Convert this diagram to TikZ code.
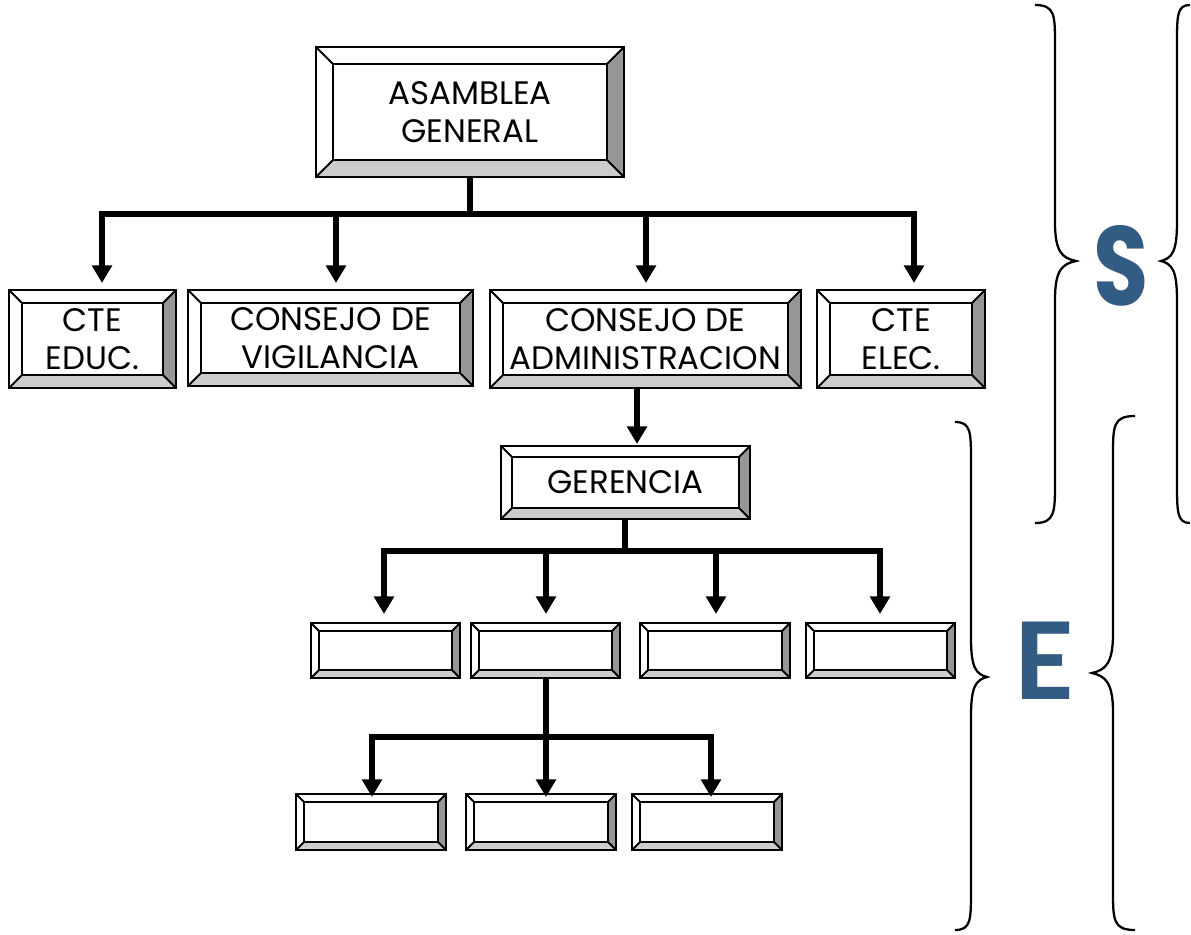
\documentclass[tikz,border=0pt]{standalone}
\usepackage{fontspec}
\setmainfont{Poppins}
\newfontfamily\sfontfam{Poppins}
\newfontfamily\efontfam{Carlito}
\usetikzlibrary{arrows.meta,fit}
\definecolor{rgray}{RGB}{150,150,150}
\definecolor{bgray}{RGB}{204,204,204}
\definecolor{letterblue}{RGB}{51,92,133}
\tikzset{
  boxline/.style={line width=1.1pt,line join=miter},
  conn/.style={line width=2.9pt},
  arr/.style={line width=2.9pt,-{Triangle[width=11pt,length=10pt]}},
  lbl/.style={font=\fontsize{18.5}{21.5}\selectfont,align=center,inner sep=0pt},
  brace/.style={line width=1.3pt}
}
% #1 name, #2 x1, #3 y1, #4 x2, #5 y2, #6 bevel, #7 text
\newcommand\bevbox[7]{%
  \fill[white] (#2,#3) rectangle (#4,#5);
  \fill[rgray] (#4,#3) -- (#4,#5) -- ({#4-#6},{#5-#6}) -- ({#4-#6},{#3+#6}) -- cycle;
  \fill[bgray] (#2,#5) -- (#4,#5) -- ({#4-#6},{#5-#6}) -- ({#2+#6},{#5-#6}) -- cycle;
  \draw[boxline] (#2,#3) rectangle (#4,#5);
  \draw[boxline] ({#2+#6},{#3+#6}) rectangle ({#4-#6},{#5-#6});
  \draw[boxline] (#2,#3) -- ({#2+#6},{#3+#6});
  \draw[boxline] (#4,#3) -- ({#4-#6},{#3+#6});
  \draw[boxline] (#2,#5) -- ({#2+#6},{#5-#6});
  \draw[boxline] (#4,#5) -- ({#4-#6},{#5-#6});
  \node[fit={(#2,#3) (#4,#5)},inner sep=0pt] (#1) {};
  \node[lbl] (#1-t) at (#1.center) {#7};
}
\begin{document}
\begin{tikzpicture}[x=0.02cm,y=-0.02cm]
\fill[white] (0,0) rectangle (1191,934);
\useasboundingbox (0,0) rectangle (1191,934);

% boxes
\bevbox{ag}{316}{47}{624}{177}{17}{ASAMBLEA\\GENERAL}
\bevbox{educ}{9}{290}{176}{388}{13}{CTE\\EDUC.}
\bevbox{vig}{188}{290}{473}{386}{13}{CONSEJO DE\\VIGILANCIA}
\bevbox{adm}{490}{290}{801}{388}{13}{CONSEJO DE\\ADMINISTRACION}
\bevbox{elec}{817}{290}{985}{388}{13}{CTE\\ELEC.}
\bevbox{ger}{501}{446}{750}{519}{11}{GERENCIA}
\bevbox{d1}{311}{623}{460}{678}{8}{}
\bevbox{d2}{471}{623}{620}{678}{8}{}
\bevbox{d3}{640}{623}{790}{678}{8}{}
\bevbox{d4}{806}{623}{955}{678}{8}{}
\bevbox{s1}{296}{794}{446}{850}{8}{}
\bevbox{s2}{466}{794}{616}{850}{8}{}
\bevbox{s3}{632}{794}{782}{850}{8}{}

% connectors level 1
\coordinate (b0) at (470,214);
\coordinate (t1) at (102,283);
\coordinate (t2) at (336,283);
\coordinate (t3) at (646,283);
\coordinate (t4) at (914,283);
\draw[conn] (ag.south) -- (b0);
\draw[arr] (b0) -| (t1);
\draw[arr] (b0) -| (t4);
\draw[arr] (b0 -| t2) -- (t2);
\draw[arr] (b0 -| t3) -- (t3);

% admin -> gerencia
\coordinate (gt) at (637,444);
\draw[arr] (adm.south -| gt) -- (gt);

% gerencia level
\coordinate (g0) at (625,551);
\coordinate (u1) at (384,614);
\coordinate (u2) at (546,614);
\coordinate (u3) at (716,614);
\coordinate (u4) at (880,614);
\draw[conn] (ger.south -| g0) -- (g0);
\draw[arr] (g0) -| (u1);
\draw[arr] (g0) -| (u4);
\draw[arr] (g0 -| u2) -- (u2);
\draw[arr] (g0 -| u3) -- (u3);

% sub level
\coordinate (h0) at (546,737);
\coordinate (v1) at (372,797);
\coordinate (v2) at (546,797);
\coordinate (v3) at (711,797);
\draw[arr] (d2.south -| v2) -- (v2);
\draw[arr] (h0) -| (v1);
\draw[arr] (h0) -| (v3);

% braces
\draw[brace] (1035,5) .. controls (1055,5) and (1055,15) .. (1055,45) -- (1055,222)
  .. controls (1055,252) and (1062,258) .. (1076,261)
  .. controls (1062,264) and (1055,270) .. (1055,300) -- (1055,482)
  .. controls (1055,512) and (1055,523) .. (1035,523);
\draw[brace] (1190,5) .. controls (1177,5) and (1177,15) .. (1177,45) -- (1177,222)
  .. controls (1177,252) and (1172,258) .. (1161,261)
  .. controls (1172,264) and (1177,270) .. (1177,300) -- (1177,482)
  .. controls (1177,512) and (1177,523) .. (1190,523);
\draw[brace] (955,422) .. controls (971,422) and (971,432) .. (971,462) -- (971,638)
  .. controls (971,668) and (976,674) .. (987,677)
  .. controls (976,680) and (971,686) .. (971,716) -- (971,890)
  .. controls (971,920) and (971,930) .. (955,930);
\draw[brace] (1135,416) .. controls (1113,416) and (1113,426) .. (1113,456) -- (1113,634)
  .. controls (1113,664) and (1105,670) .. (1092,673)
  .. controls (1105,676) and (1113,682) .. (1113,712) -- (1113,890)
  .. controls (1113,920) and (1113,930) .. (1135,930);

% letters
\node[text=letterblue,font=\sfontfam\bfseries\fontsize{64}{64}\selectfont,inner sep=0] (sl) at (1121,266) {\scalebox{0.8}[1]{S}};
\node[text=letterblue,font=\efontfam\bfseries\fontsize{68}{68}\selectfont,inner sep=0] (el) at (1045,661) {E};
\end{tikzpicture}
\end{document}
